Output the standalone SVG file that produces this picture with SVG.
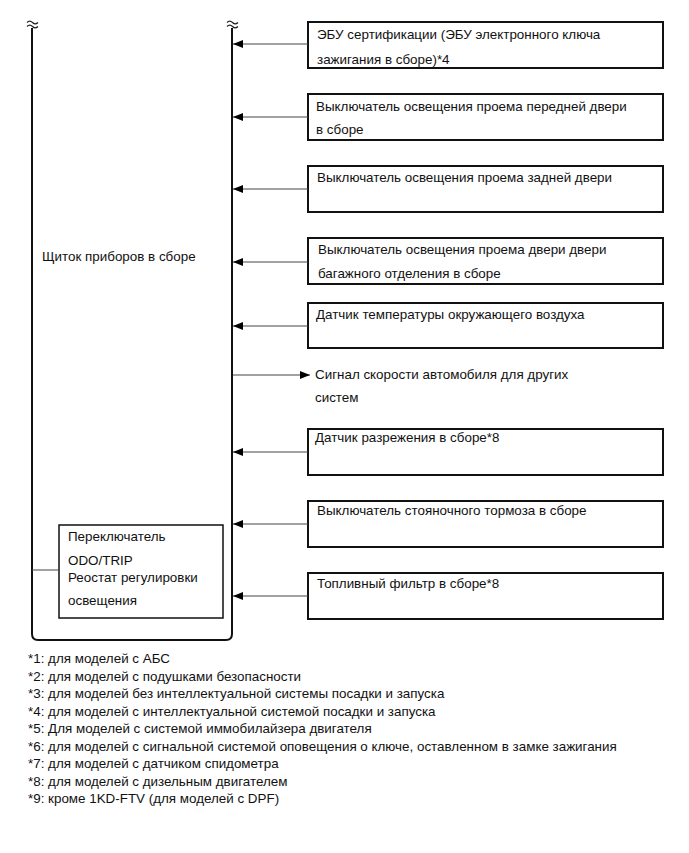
<svg xmlns="http://www.w3.org/2000/svg" width="689" height="853" viewBox="0 0 689 853">
<style>
text{font-family:"Liberation Sans",Arial,sans-serif;font-size:13.4px;fill:#111}
.box{fill:#fff;stroke:#111;stroke-width:2}
.conn{stroke:#444;stroke-width:1;fill:none}
.frame{fill:none;stroke:#111;stroke-width:2}
.brk{fill:none;stroke:#222;stroke-width:1.2}
</style>
<defs>
<marker id="ah" markerWidth="10" markerHeight="8" refX="10" refY="4" orient="auto" markerUnits="userSpaceOnUse">
<path d="M0,0 L10,4 L0,8 Z" fill="#000"/>
</marker>
</defs>
<rect width="689" height="853" fill="#fff"/>
<g id="meter">
<path class="frame" d="M32,28 V634 Q32,640 38,640 H226 Q232,640 232,634 V28"/>
<path class="brk" d="M27,22.5 q2.75,-2.75 5.5,0 t5.5,0 M27,26.5 q2.75,-2.75 5.5,0 t5.5,0"/>
<path class="brk" d="M227,22.5 q2.75,-2.75 5.5,0 t5.5,0 M227,26.5 q2.75,-2.75 5.5,0 t5.5,0"/>
<text x="42" y="261">Щиток приборов в сборе</text>
</g>
<g id="odo">
<rect x="59" y="525" width="164" height="93" fill="#fff" stroke="#111" stroke-width="1.5"/>
<text x="68" y="541">Переключатель</text>
<text x="68" y="565">ODO/TRIP</text>
<text x="68" y="582">Реостат регулировки</text>
<text x="68" y="605">освещения</text>
</g>
<g id="n1"><rect class="box" x="308" y="22" width="355" height="46"/>
<text x="317" y="39">ЭБУ сертификации (ЭБУ электронного ключа</text>
<text x="317" y="64">зажигания в сборе)*4</text></g>
<g id="n2"><rect class="box" x="308" y="94" width="355" height="46"/>
<text x="316" y="111">Выключатель освещения проема передней двери</text>
<text x="316" y="134">в сборе</text></g>
<g id="n3"><rect class="box" x="308" y="166" width="355" height="46"/>
<text x="317" y="182">Выключатель освещения проема задней двери</text></g>
<g id="n4"><rect class="box" x="308" y="238" width="355" height="46"/>
<text x="318" y="254">Выключатель освещения проема двери двери</text>
<text x="318" y="278">багажного отделения в сборе</text></g>
<g id="n5"><rect class="box" x="308" y="303" width="355" height="45"/>
<text x="316" y="319">Датчик температуры окружающего воздуха</text></g>
<g id="n6"><text x="315" y="379">Сигнал скорости автомобиля для других</text>
<text x="315" y="402">систем</text></g>
<g id="n7"><rect class="box" x="308" y="429" width="355" height="46"/>
<text x="315" y="442">Датчик разрежения в сборе*8</text></g>
<g id="n8"><rect class="box" x="308" y="501" width="355" height="46"/>
<text x="317" y="515">Выключатель стояночного тормоза в сборе</text></g>
<g id="n9"><rect class="box" x="308" y="573" width="355" height="46"/>
<text x="317" y="588">Топливный фильтр в сборе*8</text></g>
<g id="connectors">
<line class="conn" x1="308" y1="44" x2="233" y2="44" marker-end="url(#ah)"/>
<line class="conn" x1="308" y1="117" x2="233" y2="117" marker-end="url(#ah)"/>
<line class="conn" x1="308" y1="189" x2="233" y2="189" marker-end="url(#ah)"/>
<line class="conn" x1="308" y1="262" x2="233" y2="262" marker-end="url(#ah)"/>
<line class="conn" x1="308" y1="326" x2="233" y2="326" marker-end="url(#ah)"/>
<line class="conn" x1="233" y1="375" x2="310" y2="375" marker-end="url(#ah)"/>
<line class="conn" x1="308" y1="452" x2="233" y2="452" marker-end="url(#ah)"/>
<line class="conn" x1="308" y1="524" x2="233" y2="524" marker-end="url(#ah)"/>
<line class="conn" x1="308" y1="596" x2="233" y2="596" marker-end="url(#ah)"/>
<line class="conn" x1="32" y1="570" x2="59" y2="570"/>
</g>
<g id="notes">
<text x="28" y="663">*1: для моделей с АБС</text>
<text x="28" y="680.5">*2: для моделей с подушками безопасности</text>
<text x="28" y="698">*3: для моделей без интеллектуальной системы посадки и запуска</text>
<text x="28" y="715.5">*4: для моделей с интеллектуальной системой посадки и запуска</text>
<text x="28" y="733">*5: Для моделей с системой иммобилайзера двигателя</text>
<text x="28" y="750.5">*6: для моделей с сигнальной системой оповещения о ключе, оставленном в замке зажигания</text>
<text x="28" y="768">*7: для моделей с датчиком спидометра</text>
<text x="28" y="785.5">*8: для моделей с дизельным двигателем</text>
<text x="28" y="803">*9: кроме 1KD-FTV (для моделей с DPF)</text>
</g>
</svg>
